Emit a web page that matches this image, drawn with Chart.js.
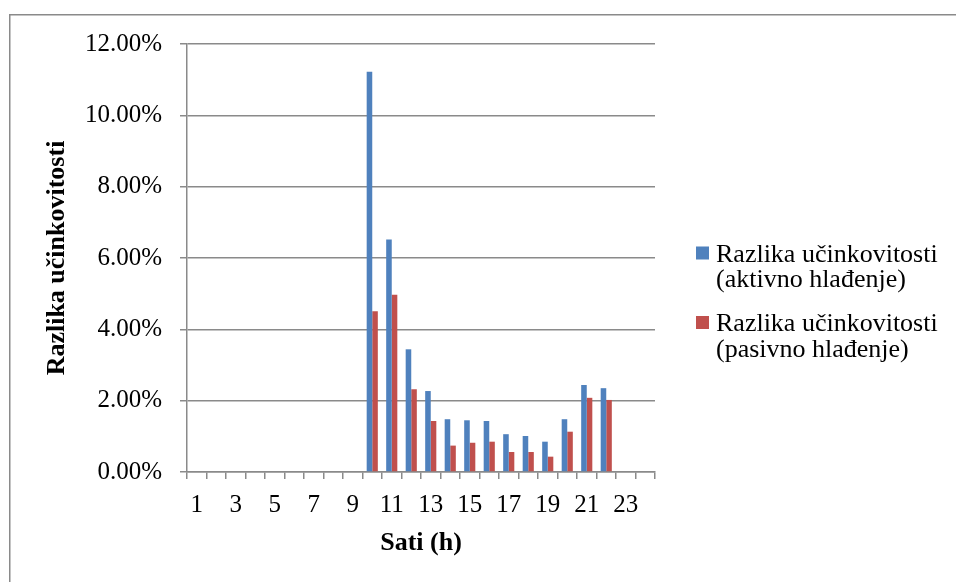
<!DOCTYPE html>
<html>
<head>
<meta charset="UTF-8">
<title>Razlika učinkovitosti</title>
<script src="https://cdn.jsdelivr.net/npm/chart.js"></script>
<style>
  html, body { margin: 0; padding: 0; background: #fff; }
  canvas { display: block; }
</style>
</head>
<body>
<canvas id="chart" width="956" height="582"></canvas>
<script>
  // hours of the day
  const hours = ['1','2','3','4','5','6','7','8','9','10','11','12','13','14','15','16','17','18','19','20','21','22','23','24'];
  // efficiency difference in %
  const aktivno = [null,null,null,null,null,null,null,null,null,11.22,6.52,3.44,2.27,1.48,1.45,1.43,1.06,1.01,0.85,1.48,2.44,2.35,null,null];
  const pasivno = [null,null,null,null,null,null,null,null,null,4.51,4.97,2.32,1.43,0.74,0.82,0.85,0.56,0.56,0.43,1.13,2.08,2.02,null,null];
  const seriesNames = ['Razlika učinkovitosti (aktivno hlađenje)', 'Razlika učinkovitosti (pasivno hlađenje)'];
  const yTicks = [0, 2, 4, 6, 8, 10, 12];

  const serif = 'Liberation Serif, "Times New Roman", serif';
  const gray = '#8a8a8a';

  // outer frame of the chart object
  const framePlugin = {
    id: 'frame',
    beforeDraw(chart) {
      const c = chart.ctx;
      c.save();
      c.fillStyle = '#fff';
      c.fillRect(0, 0, chart.width, chart.height);
      c.strokeStyle = gray;
      c.lineWidth = 1.5;
      c.beginPath();
      c.moveTo(9.75, chart.height);
      c.lineTo(9.75, 14.75);
      c.lineTo(chart.width, 14.75);
      c.stroke();
      c.restore();
    }
  };

  // two-line legend on the right, like Excel's
  const legendPlugin = {
    id: 'sideLegend',
    afterDraw(chart) {
      const c = chart.ctx;
      c.save();
      c.font = '26px ' + serif;
      c.textBaseline = 'alphabetic';
      c.fillStyle = '#000';
      chart.data.datasets.forEach((ds, i) => {
        const base = 261.5 + i * 69.5;
        const parts = ds.label.split(' (');
        c.fillStyle = ds.backgroundColor;
        c.fillRect(696, base - 15, 13, 13);
        c.fillStyle = '#000';
        c.fillText(parts[0], 716, base);
        if (parts[1]) c.fillText('(' + parts[1], 716, base + 25.5);
      });
      c.restore();
    }
  };

  new Chart(document.getElementById('chart'), {
    type: 'bar',
    data: {
      labels: hours,
      datasets: [
        { label: seriesNames[0], data: aktivno, backgroundColor: '#4f81bd' },
        { label: seriesNames[1], data: pasivno, backgroundColor: '#c0504d' }
      ]
    },
    options: {
      responsive: false,
      animation: false,
      events: [],
      categoryPercentage: 0.571,
      barPercentage: 1,
      layout: { padding: { left: 10, right: 301, top: 44, bottom: 0 } },
      plugins: {
        legend: { display: false },
        tooltip: { enabled: false }
      },
      scales: {
        x: {
          offset: true,
          afterFit: s => { s.height = 110; },
          grid: { offset: true, drawOnChartArea: false, color: gray, lineWidth: 1.5, tickLength: 7 },
          border: { display: true, color: gray, width: 1.5 },
          ticks: {
            autoSkip: false,
            maxRotation: 0,
            padding: 11,
            color: '#000',
            font: { family: serif, size: 25 },
            callback: (v, i) => (i % 2 === 0 ? hours[i] : '')
          },
          title: {
            display: true,
            text: 'Sati (h)',
            color: '#000',
            font: { family: serif, size: 26, weight: 'bold' },
            padding: { top: 0, bottom: 23 }
          }
        },
        y: {
          min: yTicks[0],
          max: yTicks[yTicks.length - 1],
          afterFit: s => { s.width = 177; },
          afterBuildTicks: s => { s.ticks = yTicks.map(v => ({ value: v })); },
          grid: { color: gray, lineWidth: 1.5, tickLength: 7 },
          border: { display: true, color: gray, width: 1.5 },
          ticks: {
            padding: 18,
            color: '#000',
            font: { family: serif, size: 25 },
            callback: v => v.toFixed(2) + '%'
          },
          title: {
            display: true,
            text: 'Razlika učinkovitosti',
            color: '#000',
            font: { family: serif, size: 26, weight: 'bold' },
            padding: { top: 32, bottom: 0 }
          }
        }
      }
    },
    plugins: [framePlugin, legendPlugin]
  });
</script>
</body>
</html>
